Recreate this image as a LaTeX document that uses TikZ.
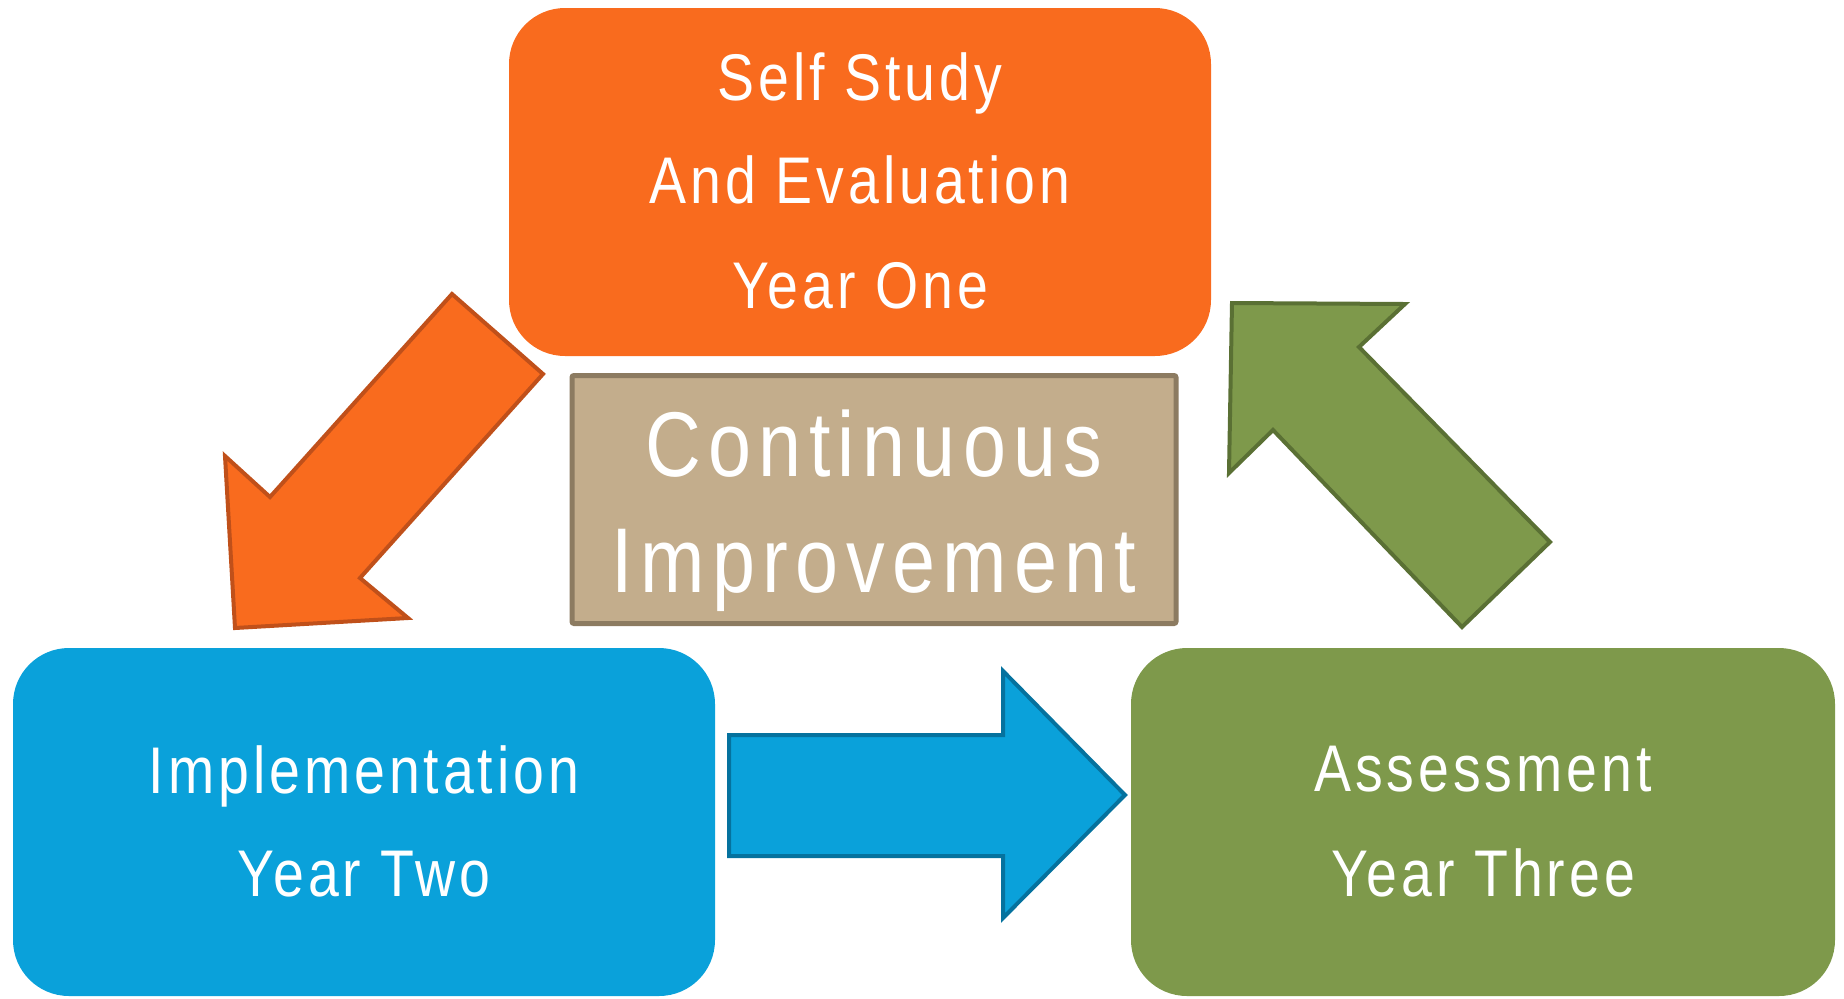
\documentclass[tikz,border=0pt]{standalone}
\usepackage{fontspec}
\setmainfont{Liberation Sans}[FakeStretch=0.84,LetterSpace=6]
\definecolor{orng}{HTML}{F96B1E}
\definecolor{orngd}{HTML}{C0501A}
\definecolor{blu}{HTML}{0AA1DA}
\definecolor{blud}{HTML}{05729E}
\definecolor{grn}{HTML}{7E994B}
\definecolor{grnd}{HTML}{5A7034}
\definecolor{tan}{HTML}{C3AD8C}
\definecolor{tand}{HTML}{8C7B61}
\tikzset{
  rbox/.style={draw=none,rounded corners=28pt,inner sep=0pt},
  lbl/.style={text=white,anchor=base,inner sep=0pt,font=\fontsize{33}{40}\selectfont},
  biglbl/.style={text=white,anchor=base,inner sep=0pt,font=\fontsize{46}{54}\selectfont\addfontfeature{LetterSpace=8}},
  barrow/.style={line width=2pt,line join=miter}
}
\begin{document}
\begin{tikzpicture}[x=0.5pt,y=-0.5pt]
\useasboundingbox (0,0) rectangle (1844,998);
% boxes
\node[rbox,fill=orng,minimum width=351pt,minimum height=174pt] (top) at (860,182) {};
\node[rbox,fill=blu,minimum width=351pt,minimum height=174pt] (left) at (364,822) {};
\node[rbox,fill=grn,minimum width=352pt,minimum height=174pt] (right) at (1483,822) {};
\node[draw=tand,fill=tan,line width=2.5pt,rounded corners=1pt,minimum width=302pt,minimum height=124pt,inner sep=0pt] (mid) at (874,499.5) {};
% labels
\node[lbl] (t1) at (860,100) {Self Study};
\node[lbl] (t2) at (860,203) {And Evaluation};
\node[lbl] (t3) at (860,308) {Year One};
\node[biglbl] (m1) at (874,476) {Continuous};
\node[biglbl] (m2) at (874,592) {Improvement};
\node[lbl] (l1) at (364,793) {Implementation};
\node[lbl] (l2) at (364,896) {Year Two};
\node[lbl] (r1) at (1483,791) {Assessment};
\node[lbl] (r2) at (1483,896) {Year Three};
% block arrows
\draw[barrow,draw=orngd,fill=orng] (452,294) -- (543,374) -- (360,578) -- (408,618) -- (235,628) -- (225,456) -- (270,497) -- cycle;
\draw[barrow,draw=blud,fill=blu] (729,735) -- (1003,735) -- (1003,671) -- (1125,795) -- (1003,918) -- (1003,856) -- (729,856) -- cycle;
\draw[barrow,draw=grnd,fill=grn] (1232,303) -- (1405,304) -- (1359,347) -- (1550,542) -- (1462,627) -- (1273,430) -- (1229,473) -- cycle;
\end{tikzpicture}
\end{document}
